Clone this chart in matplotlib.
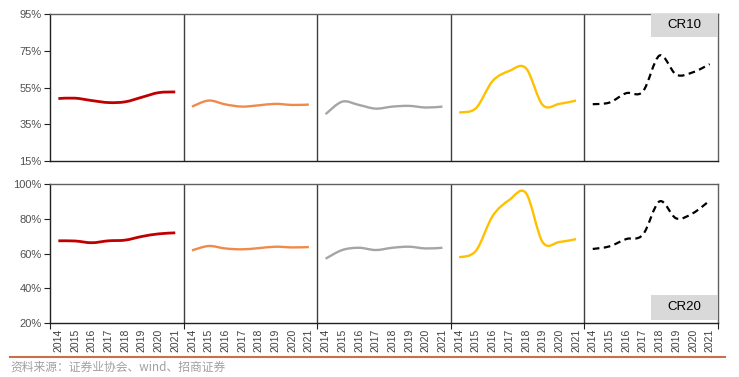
import matplotlib
matplotlib.use("Agg")
import matplotlib.pyplot as plt
from matplotlib.path import Path
from matplotlib.patches import PathPatch, Rectangle
from matplotlib.ticker import FixedLocator, PercentFormatter
from matplotlib.lines import Line2D

plt.rcParams['font.family'] = ['Liberation Sans', 'Noto Sans CJK SC', 'DejaVu Sans']

years = ['2014', '2015', '2016', '2017', '2018', '2019', '2020', '2021']

cr10_g1 = [49.0, 49.2, 47.9, 46.8, 47.2, 49.7, 52.2, 52.6]
cr10_g2 = [44.6, 47.9, 45.8, 44.6, 45.3, 46.1, 45.5, 45.7]
cr10_g3 = [40.5, 47.3, 45.5, 43.5, 44.6, 45.0, 44.1, 44.6]
cr10_g4 = [41.4, 43.7, 58.5, 64.0, 65.5, 45.5, 46.1, 47.9]
cr10_g5 = [45.9, 46.8, 51.9, 52.8, 72.4, 62.0, 63.3, 67.7]

cr20_g1 = [67.3, 67.2, 66.2, 67.3, 67.7, 69.8, 71.3, 71.9]
cr20_g2 = [61.8, 64.3, 62.9, 62.4, 63.1, 63.9, 63.5, 63.7]
cr20_g3 = [57.0, 62.0, 63.3, 62.0, 63.3, 63.9, 62.9, 63.3]
cr20_g4 = [57.8, 61.5, 81.5, 90.8, 94.8, 66.5, 66.6, 68.3]
cr20_g5 = [62.6, 64.1, 68.3, 70.8, 90.0, 80.2, 83.2, 90.4]

cr10_groups = [cr10_g1, cr10_g2, cr10_g3, cr10_g4, cr10_g5]
cr20_groups = [cr20_g1, cr20_g2, cr20_g3, cr20_g4, cr20_g5]

colors = ['#c00000', '#f08a4b', '#a5a5a5', '#ffc000', '#000000']
styles = ['-', '-', '-', '-', (0, (3, 2))]
widths = [2.0, 1.7, 1.7, 1.7, 1.6]


def smooth_path(xs, ys):
    pts = list(zip(xs, ys))
    n = len(pts)
    verts = [pts[0]]
    codes = [Path.MOVETO]
    for i in range(n - 1):
        p0 = pts[i - 1] if i > 0 else pts[i]
        p1 = pts[i]
        p2 = pts[i + 1]
        p3 = pts[i + 2] if i + 2 < n else pts[i + 1]
        c1 = (p1[0] + (p2[0] - p0[0]) / 6.0, p1[1] + (p2[1] - p0[1]) / 6.0)
        c2 = (p2[0] - (p3[0] - p1[0]) / 6.0, p2[1] - (p3[1] - p1[1]) / 6.0)
        verts += [c1, c2, p2]
        codes += [Path.CURVE4, Path.CURVE4, Path.CURVE4]
    return Path(verts, codes)


W, H = 739, 377
fig = plt.figure(figsize=(W / 100, H / 100), dpi=100)

def frac_rect(x0, y0, x1, y1):
    return [x0 / W, 1 - y1 / H, (x1 - x0) / W, (y1 - y0) / H]

ax1 = fig.add_axes(frac_rect(50, 14, 718, 161))
ax2 = fig.add_axes(frac_rect(50, 184, 718, 323))

ng = len(cr10_groups)
ny = len(years)

for ax, groups, ylim, yticks, label, lab_top in [
        (ax1, cr10_groups, (15, 95), [15, 35, 55, 75, 95], 'CR10', True),
        (ax2, cr20_groups, (20, 100), [20, 40, 60, 80, 100], 'CR20', False)]:
    ax.set_xlim(-0.5, ng * ny - 0.5)
    ax.set_ylim(*ylim)
    for g, vals in enumerate(groups):
        xs = [g * ny + i for i in range(ny)]
        patch = PathPatch(smooth_path(xs, vals), facecolor='none',
                          edgecolor=colors[g], lw=widths[g],
                          linestyle=styles[g], capstyle='butt', zorder=3)
        ax.add_patch(patch)
    for g in range(1, ng):
        ax.axvline(g * ny - 0.5, color='#404040', lw=1.0, zorder=2)
    ax.yaxis.set_major_locator(FixedLocator(yticks))
    ax.yaxis.set_major_formatter(PercentFormatter(decimals=0))
    ax.tick_params(axis='y', labelsize=8, colors='#505050', length=4,
                   width=0.8, direction='out', pad=2)
    ax.tick_params(axis='y', color='#202020')
    for s in ax.spines.values():
        s.set_color('#606060')
        s.set_linewidth(1.0)
    ax.spines['left'].set_color('#202020')
    ax.spines['bottom'].set_color('#202020')
    span = ylim[1] - ylim[0]
    if lab_top:
        by0 = ylim[1] - span * (23 / 147)
        bh = span * (23 / 147)
    else:
        by0 = ylim[0] + span * (3 / 139)
        bh = span * (25 / 139)
    bx0 = ng * ny - 0.5 - 67 / 16.7
    ax.add_patch(Rectangle((bx0, by0), 67 / 16.7, bh, facecolor='#d9d9d9',
                           edgecolor='none', zorder=4))
    ax.text(bx0 + 67 / 16.7 / 2, by0 + bh / 2, label, ha='center', va='center',
            fontsize=9.5, color='#000000', zorder=5)

ax1.set_xticks([])
ax2.xaxis.set_major_locator(FixedLocator([g * ny - 0.5 for g in range(ng + 1)]))
ax2.set_xticklabels([])
ax2.tick_params(axis='x', length=4, width=0.8, direction='out', colors='#202020')
all_labels = years * ng
ax2.set_xticks(range(ng * ny), minor=True)
ax2.set_xticklabels(all_labels, minor=True, rotation=90, fontsize=7.5,
                    color='#404040')
ax2.tick_params(axis='x', which='minor', length=0, pad=4)

fig.add_artist(Line2D([10 / W, 725 / W], [1 - 357 / H, 1 - 357 / H],
                      color='#c8704a', lw=1.5))
fig.text(10 / W, 1 - 367 / H, '资料来源：证券业协会、wind、招商证券', fontsize=8.5,
         color='#a0a0a0', va='center', ha='left',
         family=['Noto Sans CJK SC', 'DejaVu Sans'])

fig.savefig('out.png', dpi=100)
